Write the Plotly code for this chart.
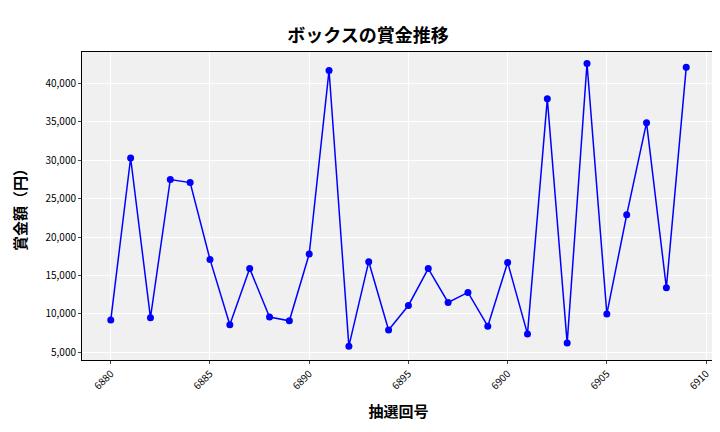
import plotly.graph_objects as go

draws = list(range(6880, 6910))
prizes = [9200, 30300, 9500, 27500, 27100, 17100, 8600, 15900, 9600, 9100,
          17800, 41700, 5800, 16800, 7900, 11100, 15900, 11500, 12800, 8400,
          16700, 7400, 38000, 6200, 42600, 10000, 22900, 34900, 13400, 42100]

font = "Noto Sans CJK JP"

fig = go.Figure(go.Scatter(x=draws, y=prizes, mode="lines+markers",
                           line=dict(color="blue", width=1.5),
                           marker=dict(color="blue", size=7)))

fig.update_layout(
    width=720, height=432,
    margin=dict(l=72, r=12, t=44, b=80),
    paper_bgcolor="white", plot_bgcolor="#f0f0f0",
    font=dict(family=font, size=10, color="black"),
    title=dict(text="<b>ボックスの賞金推移</b>", x=0.5, xanchor="center", y=0.95,
               font=dict(size=18, family=font)),
    showlegend=False,
)
fig.update_xaxes(title=dict(text="<b>抽選回号</b>", font=dict(size=15)),
                 tickmode="array", tickvals=list(range(6880, 6911, 5)),
                 tickangle=-45, range=[6878.55, 6910.45],
                 gridcolor="white", showline=True, linecolor="black",
                 mirror=True, ticks="outside", ticklen=3, zeroline=False)
fig.update_yaxes(title=dict(text="<b>賞金額（円）</b>", font=dict(size=15)),
                 tickvals=list(range(5000, 40001, 5000)), tickformat=",",
                 range=[4000, 44100],
                 gridcolor="white", showline=True, linecolor="black",
                 mirror=True, ticks="outside", ticklen=3, zeroline=False)

fig.write_html("out.html")
